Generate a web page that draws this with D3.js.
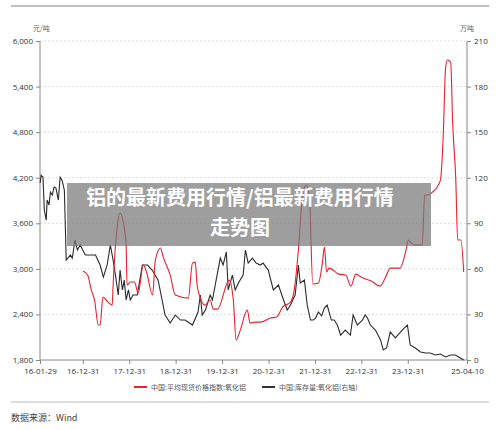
<!DOCTYPE html>
<html><head><meta charset="utf-8">
<script src="https://cdn.jsdelivr.net/npm/d3@7"></script>
<style>body{margin:0;background:#fff;font-family:"Noto Sans CJK SC","Noto Sans",sans-serif}</style>
</head><body><svg id="c" width="500" height="430"></svg>
<script>
// Dates as decimal years
const priceDates=[2017.0,2017.1,2017.18,2017.25,2017.33,2017.37,2017.43,2017.54,2017.63,2017.65,2017.73,2017.80,2017.89,2017.93,2017.95,2018.02,2018.11,2018.19,2018.30,2018.37,2018.50,2018.56,2018.67,2018.73,2018.88,2018.99,2019.27,2019.36,2019.42,2019.46,2019.53,2019.63,2019.74,2019.81,2019.90,2020.15,2020.24,2020.30,2020.39,2020.54,2020.60,2020.71,2020.82,2021.04,2021.17,2021.30,2021.47,2021.55,2021.64,2021.73,2021.81,2021.88,2021.95,2022.07,2022.16,2022.20,2022.25,2022.30,2022.51,2022.66,2022.77,2022.88,2022.99,2023.21,2023.40,2023.51,2023.62,2023.83,2023.96,2024.01,2024.07,2024.14,2024.31,2024.36,2024.40,2024.53,2024.70,2024.76,2024.81,2024.85,2024.92,2024.96,2025.03,2025.07,2025.14,2025.20,2025.26];
const priceValues=[2971,2918,2721,2589,2260,2260,2629,2563,2523,2787,3511,3735,3537,3313,2787,2826,2826,2681,3050,2958,2655,3116,3274,3155,2918,2655,2615,3076,3089,2787,2615,2523,2589,2470,2470,2852,2589,2062,2194,2457,2286,2299,2299,2352,2365,2497,2563,2721,3248,3972,4104,3906,2800,2813,3089,3287,2958,3010,2931,2918,2773,2931,2892,2839,2773,2879,3010,3010,3248,3379,3340,3313,3313,3972,3972,4010,4169,4762,5644,5750,5723,4960,4169,3379,3379,2958];
const stockDates=[2016.08,2016.10,2016.14,2016.17,2016.21,2016.23,2016.27,2016.30,2016.34,2016.38,2016.42,2016.47,2016.51,2016.55,2016.60,2016.64,2016.73,2016.77,2016.83,2016.88,2016.94,2017.05,2017.16,2017.27,2017.37,2017.44,2017.52,2017.59,2017.65,2017.70,2017.74,2017.76,2017.80,2017.85,2017.89,2017.93,2017.98,2018.02,2018.08,2018.17,2018.28,2018.39,2018.49,2018.62,2018.77,2018.88,2018.99,2019.10,2019.20,2019.36,2019.48,2019.53,2019.57,2019.64,2019.74,2019.79,2019.96,2020.02,2020.09,2020.13,2020.22,2020.28,2020.35,2020.45,2020.50,2020.56,2020.65,2020.73,2020.82,2020.88,2020.99,2021.10,2021.21,2021.32,2021.40,2021.47,2021.57,2021.64,2021.68,2021.77,2021.83,2021.90,2021.96,2022.01,2022.07,2022.14,2022.20,2022.26,2022.35,2022.41,2022.48,2022.55,2022.65,2022.76,2022.82,2022.91,2023.02,2023.08,2023.13,2023.19,2023.30,2023.41,2023.47,2023.54,2023.62,2023.73,2023.84,2023.92,2023.99,2024.05,2024.16,2024.27,2024.38,2024.48,2024.59,2024.70,2024.81,2024.92,2025.02,2025.13,2025.20];
const stockValues=[116.5,121.7,120.4,98.7,92.1,105.3,102,110.5,108.6,113.8,113.2,105.3,120.4,118.4,111.9,65.8,69.1,67.1,79,72.4,75.7,69.1,69.1,69.1,62.5,54.6,62.5,75.7,65.8,55.9,47.4,42.8,59.2,46.1,52.6,39.5,46.1,39.5,42.8,42.8,62.5,62.5,59.2,52.6,29.6,24.3,29.6,26.3,26.3,23,31.6,42.8,29.6,32.9,42.8,39.5,67.1,62.5,71.1,46.1,55.9,46.1,50.7,55.9,72.4,63.8,67.1,63.8,62.5,63.8,59.2,46.1,49.3,39.5,32.9,36.2,42.8,62.5,50.7,52.6,36.2,26.3,26.3,27.6,31.6,29,34.2,36.2,26.3,26.3,23,16.4,19.7,16.4,29.6,23,26.3,29.6,27.6,23,19.7,13.2,6.6,7.9,18.4,14.5,18.4,21,23,9.9,7.9,5.3,4.6,4.6,3.3,3.9,2,3.3,3.3,1.3,0];
const tickLabels=["16-01-29","16-12-31","17-12-31","18-12-31","19-12-31","20-12-31","21-12-31","22-12-31","23-12-31","25-04-10"];
const leftTicks=[1800,2400,3000,3600,4200,4800,5400,6000];
const rightTicks=[0,30,60,90,120,150,180,210];

const toDate=s=>{const [y,m,d]=s.split("-").map(Number);return new Date(2000+y,m-1,d);};
const dec=v=>{const y=Math.floor(v);const s=new Date(y,0,1),e=new Date(y+1,0,1);return new Date(+s+(v-y)*(e-s));};
const svg=d3.select("#c");
const L=40,R=467,T=41,B=360;
const x=d3.scaleTime().domain([toDate("16-01-29"),toDate("25-04-10")]).range([L,R]);
const yL=d3.scaleLinear().domain([1800,6000]).range([B,T]);
const yR=d3.scaleLinear().domain([0,210]).range([B,T]);
const fmt=d3.format(",");
svg.append("line").attr("x1",11).attr("x2",489).attr("y1",6).attr("y2",6).attr("stroke","#aaa").attr("stroke-width",1.5);
svg.append("line").attr("x1",11).attr("x2",489).attr("y1",402).attr("y2",402).attr("stroke","#bbb").attr("stroke-width",1.2);
svg.append("g").selectAll("line").data(leftTicks.slice(1)).join("line")
 .attr("x1",L).attr("x2",R).attr("y1",d=>yL(d)).attr("y2",d=>yL(d)).attr("stroke","#ddd").attr("stroke-dasharray","2,2");
const tf="font-size:8px;fill:#333;font-family:'Open Sans',sans-serif";
const gl=svg.append("g").attr("transform",`translate(${L},0)`).call(d3.axisLeft(yL).tickValues(leftTicks).tickFormat(fmt).tickSize(4));
const gr=svg.append("g").attr("transform",`translate(${R},0)`).call(d3.axisRight(yR).tickValues(rightTicks).tickSize(4));
const gx=svg.append("g").attr("transform",`translate(0,${B})`).call(d3.axisBottom(x).tickValues(tickLabels.map(toDate)).tickFormat((d,i)=>tickLabels[i]).tickSize(4));
[gl,gr,gx].forEach(g=>{g.selectAll("path,line").attr("stroke","#888");g.selectAll("text").attr("style",tf);g.select(".domain").attr("d",null);});
gl.append("line").attr("y1",T).attr("y2",B).attr("stroke","#888");
gr.append("line").attr("y1",T).attr("y2",B).attr("stroke","#888");
gx.append("line").attr("x1",L).attr("x2",R).attr("stroke","#888");
gx.selectAll("text").attr("dy","0.9em");
svg.append("text").attr("x",33).attr("y",31).attr("style","font-size:7px;fill:#666").text("元/吨");
svg.append("text").attr("x",460).attr("y",31).attr("style","font-size:7px;fill:#666").text("万吨");
const lineP=d3.line().x((d,i)=>x(dec(priceDates[i]))).y(d=>yL(d)).curve(d3.curveMonotoneX);
const lineS=d3.line().x((d,i)=>x(dec(stockDates[i]))).y(d=>yR(d));
svg.append("path").attr("d",lineS(stockValues)).attr("fill","none").attr("stroke","#2b2b2b").attr("stroke-width",1.1);
svg.append("path").attr("d",lineP(priceValues)).attr("fill","none").attr("stroke","#e8202a").attr("stroke-width",1.1);
svg.append("line").attr("x1",134).attr("x2",147).attr("y1",387).attr("y2",387).attr("stroke","#e8202a").attr("stroke-width",2);
svg.append("text").attr("x",151).attr("y",390).attr("style","font-size:7px;fill:#555").text("中国:平均现货价格指数:氧化铝");
svg.append("line").attr("x1",262).attr("x2",275).attr("y1",387).attr("y2",387).attr("stroke","#333").attr("stroke-width",2);
svg.append("text").attr("x",279).attr("y",390).attr("style","font-size:7px;fill:#555").text("中国:库存量:氧化铝(右轴)");
svg.append("text").attr("x",11).attr("y",421).attr("style","font-size:9px;fill:#444").text("数据来源：Wind");
svg.append("rect").attr("x",67).attr("y",183).attr("width",364).attr("height",63).attr("fill","rgba(120,120,120,0.72)");
svg.append("text").attr("x",240).attr("y",205).attr("text-anchor","middle").attr("style","font-size:20px;font-weight:bold;fill:#fff").text("铝的最新费用行情/铝最新费用行情");
svg.append("text").attr("x",240).attr("y",235).attr("text-anchor","middle").attr("style","font-size:20px;font-weight:bold;fill:#fff").text("走势图");
</script></body></html>
